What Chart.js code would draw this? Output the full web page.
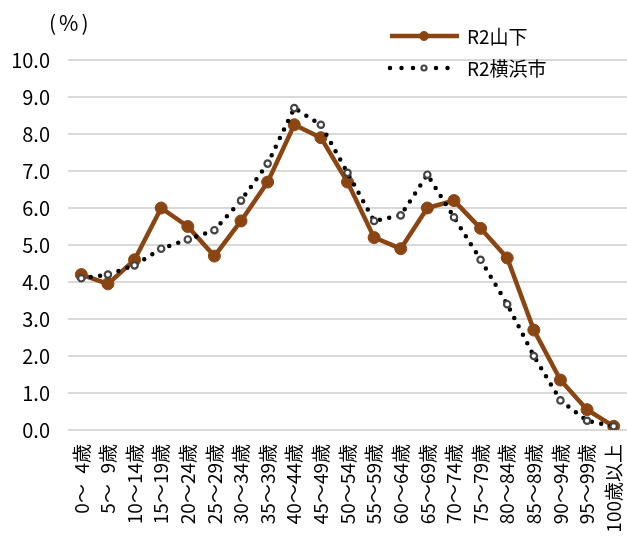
<!DOCTYPE html>
<html>
<head>
<meta charset="utf-8">
<script src="https://cdn.jsdelivr.net/npm/chart.js@4"></script>
<style>
  html, body { margin: 0; padding: 0; background: #fff; }
  #wrap { width: 627px; height: 536px; }
</style>
</head>
<body>
<div id="wrap"><canvas id="age-chart" width="627" height="536"></canvas></div>
<script>
// Age groups (x axis)
const ageLabels = [
  '\u20070～\u20074歳', '\u20075～\u20079歳', '10～14歳', '15～19歳', '20～24歳',
  '25～29歳', '30～34歳', '35～39歳', '40～44歳', '45～49歳',
  '50～54歳', '55～59歳', '60～64歳', '65～69歳', '70～74歳',
  '75～79歳', '80～84歳', '85～89歳', '90～94歳', '95～99歳', '100歳以上'
];

// Share of population (%)
const yamashita = [4.2, 3.95, 4.6, 6.0, 5.5, 4.7, 5.65, 6.7, 8.25, 7.9, 6.7, 5.2, 4.9, 6.0, 6.2, 5.45, 4.65, 2.7, 1.35, 0.55, 0.1];
const yokohama = [4.1, 4.2, 4.45, 4.9, 5.15, 5.4, 6.2, 7.2, 8.7, 8.25, 6.95, 5.65, 5.8, 6.9, 5.75, 4.6, 3.4, 2.0, 0.8, 0.25, 0.1];

// Series names
const seriesNames = ['R2山下', 'R2横浜市'];

Chart.defaults.font.family = '"Noto Sans CJK JP", "Noto Sans", sans-serif';
Chart.defaults.color = '#000';

// Legend + unit label drawn at the top right / top left
const topTexts = {
  id: 'topTexts',
  afterDraw(chart) {
    const c = chart.ctx;
    c.save();
    c.fillStyle = '#000';
    c.textBaseline = 'middle';
    c.font = '21px "Noto Sans CJK JP"';
    c.letterSpacing = '3px';
    c.fillText('(%)', 49, 23);
    c.letterSpacing = '0px';
    c.font = '19px "Noto Sans CJK JP"';
    chart.data.datasets.forEach((ds, i) => {
      const y = 36 + i * 32;
      c.beginPath();
      c.strokeStyle = ds.borderColor;
      c.lineWidth = ds.borderWidth;
      c.lineCap = ds.borderCapStyle || 'butt';
      c.setLineDash(ds.legendDash || []);
      c.moveTo(390, y);
      c.lineTo(459, y);
      c.stroke();
      c.setLineDash([]);
      c.beginPath();
      c.arc(424, y, ds.legendRadius, 0, Math.PI * 2);
      c.fillStyle = ds.pointBackgroundColor;
      c.fill();
      c.lineWidth = ds.pointBorderWidth;
      c.strokeStyle = ds.pointBorderColor;
      c.stroke();
      c.fillStyle = '#000';
      c.fillText(ds.label, 467, y + 1);
    });
    c.restore();
  }
};

const ctx = document.getElementById('age-chart').getContext('2d');

const ageChart = new Chart(ctx, {
  type: 'line',
  data: {
    labels: ageLabels,
    datasets: [
      {
        label: seriesNames[0],
        data: yamashita,
        borderColor: '#8B4513',
        backgroundColor: '#8B4513',
        borderWidth: 4.5,
        pointRadius: 6,
        pointBackgroundColor: '#8B4513',
        pointBorderColor: '#8B4513',
        pointBorderWidth: 1,
        legendRadius: 4.5,
        tension: 0,
        order: 1
      },
      {
        label: seriesNames[1],
        data: yokohama,
        borderColor: '#000',
        backgroundColor: '#fff',
        borderWidth: 4.5,
        borderDash: [0, 9.5],
        legendDash: [0, 11.5],
        borderCapStyle: 'round',
        pointRadius: 3.2,
        pointBackgroundColor: '#fff',
        pointBorderColor: '#444',
        pointBorderWidth: 2.2,
        legendRadius: 2.5,
        tension: 0,
        order: 0
      }
    ]
  },
  options: {
    responsive: false,
    animation: false,
    events: [],
    layout: { autoPadding: false, padding: { top: 60, right: 0, bottom: 0, left: 0 } },
    scales: {
      x: {
        offset: true,
        grid: { display: false, drawTicks: false },
        border: { display: false },
        ticks: {
          autoSkip: false,
          maxRotation: 90,
          minRotation: 90,
          padding: 14,
          font: { size: 19 }
        },
        afterFit: (scale) => {
          scale.height = 106;
          scale.paddingLeft = 0;
          scale.paddingRight = 0;
        }
      },
      y: {
        min: 0,
        max: 10,
        grid: { color: '#d9d9d9', lineWidth: 2, drawTicks: false },
        border: { display: false },
        ticks: {
          stepSize: 1,
          padding: 18,
          font: { size: 20 },
          callback: (v) => v.toFixed(1)
        },
        afterFit: (scale) => { scale.width = 68; }
      }
    },
    plugins: {
      legend: { display: false },
      tooltip: { enabled: false }
    }
  },
  plugins: [topTexts]
});
</script>
</body>
</html>
